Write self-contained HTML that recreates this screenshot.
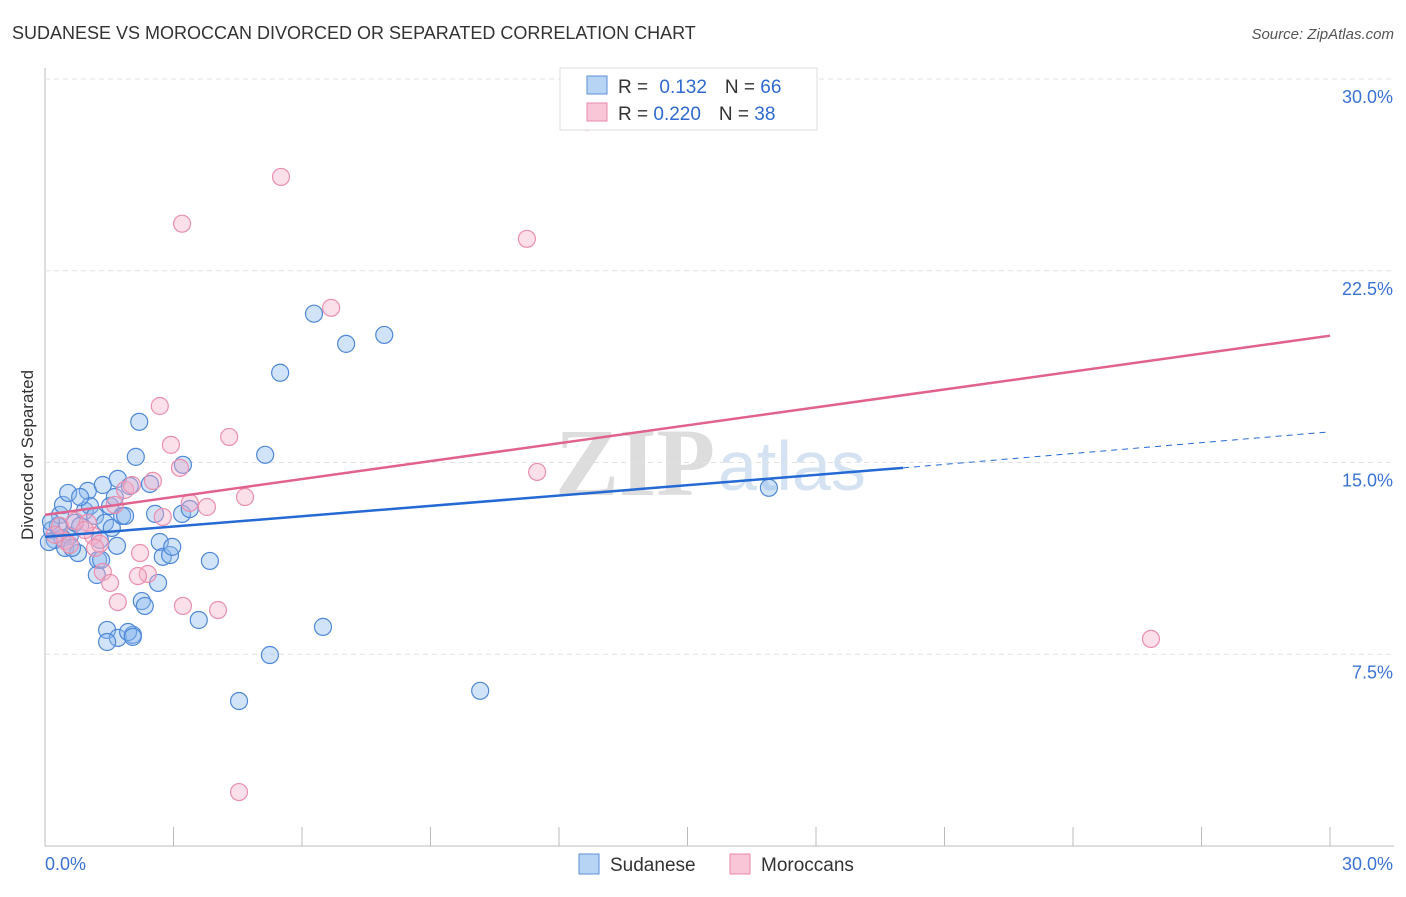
<!DOCTYPE html>
<html><head><meta charset="utf-8"><style>
body{margin:0;background:#fff;font-family:"Liberation Sans",sans-serif}
</style></head><body>
<svg id="c" width="1406" height="892" xmlns="http://www.w3.org/2000/svg">
<text x="12" y="39" font-size="18" fill="#333">SUDANESE VS MOROCCAN DIVORCED OR SEPARATED CORRELATION CHART</text>
<text x="1394" y="39" font-size="15" fill="#555" font-style="italic" text-anchor="end">Source: ZipAtlas.com</text>
<text x="33" y="455" font-size="17" fill="#333" text-anchor="middle" transform="rotate(-90 33 455)">Divorced or Separated</text>
<text x="555" y="495" font-size="96" fill="#ddd" font-family="Liberation Serif" font-weight="bold">ZIP</text>
<text x="718" y="490" font-size="70" fill="#d4e2f2">atlas</text>
<g id="grid"></g><g id="pts"></g><g id="lines"></g>
<g>
<rect x="560" y="68" width="257" height="62" fill="#fff" stroke="#ddd"/>
<rect x="587" y="76" width="20" height="18" fill="#b8d4f5" stroke="#5b8fd6"/>
<rect x="587" y="103" width="20" height="18" fill="#f8c6d6" stroke="#e88aa8"/>
<text x="618" y="93" font-size="19" fill="#333">R = <tspan fill="#2f6ad0" dx="6">0.132</tspan><tspan dx="18" fill="#333">N = </tspan><tspan fill="#2f6ad0">66</tspan></text>
<text x="618" y="120" font-size="19" fill="#333">R = <tspan fill="#2f6ad0">0.220</tspan><tspan dx="18" fill="#333">N = </tspan><tspan fill="#2f6ad0">38</tspan></text>
</g>
<g>
<rect x="579" y="854" width="20" height="20" fill="#b8d4f5" stroke="#5b8fd6"/>
<text x="610" y="871" font-size="19" fill="#333">Sudanese</text>
<rect x="730" y="854" width="20" height="20" fill="#f8c6d6" stroke="#e88aa8"/>
<text x="761" y="871" font-size="19" fill="#333">Moroccans</text>
</g>
</svg>
<script>
const yTicks=[7.5,15,22.5,30];
const yTickLabels=["7.5%","15.0%","22.5%","30.0%"];
const xTickLabels=["0.0%","30.0%"];
const sudaneseX=[0.16,0.23,0.35,0.42,0.54,0.47,0.58,0.70,0.77,0.82,0.93,1.00,1.05,1.17,1.24,1.28,1.35,1.40,1.52,1.56,1.68,1.70,1.80,1.87,1.98,2.05,2.12,2.20,2.26,2.33,2.45,2.57,2.64,2.68,2.75,2.92,2.97,3.20,3.22,3.38,3.59,3.85,5.14,5.49,6.28,6.49,7.03,7.92,5.25,4.53,10.16,16.90,1.45,1.70,1.94,2.05,1.45,1.21,1.31,0.30,0.40,0.09,0.14,0.63,0.82,1.63];
const sudaneseY=[12.36,11.97,12.95,13.34,13.81,11.66,12.13,12.64,11.46,12.52,13.11,13.89,13.30,12.91,11.19,11.97,14.12,12.64,13.30,12.44,11.74,14.36,12.91,12.91,14.08,8.26,15.22,16.59,9.58,9.39,14.16,12.99,10.29,11.89,11.31,11.38,11.70,12.99,14.91,13.18,8.84,11.15,15.30,18.51,20.82,8.57,19.64,19.99,7.47,5.67,6.07,14.01,8.45,8.14,8.37,8.18,7.98,10.60,11.19,12.52,12.05,11.89,12.68,11.66,13.65,13.65];
const moroccanX=[12.65,5.51,3.20,11.25,6.68,2.68,4.30,2.94,3.15,11.49,2.52,1.87,2.03,4.67,3.38,3.78,2.75,1.63,1.12,1.28,2.22,1.35,1.52,2.40,2.17,1.70,3.22,4.04,25.82,4.53,0.35,0.47,0.70,1.00,0.23,0.58,0.93,1.17];
const moroccanY=[28.33,26.17,24.34,23.75,21.05,17.21,16.00,15.69,14.79,14.63,14.28,13.93,14.12,13.65,13.42,13.26,12.87,13.34,12.13,11.82,11.46,10.72,10.29,10.64,10.56,9.54,9.39,9.23,8.10,2.11,12.52,11.93,12.71,12.64,12.17,11.78,12.36,11.66];
const blueTrend=[[0,12.09],[20.03,14.79]];
const blueDash=[[20.03,14.79],[30,16.2]];
const pinkTrend=[[0,12.95],[30,19.96]];
const NS="http://www.w3.org/2000/svg";
const X=v=>45+v*(1285/30), Y=v=>846-v*(767/30);
function mk(t,a,p){const e=document.createElementNS(NS,t);for(const k in a)e.setAttribute(k,a[k]);p.appendChild(e);return e;}
const g=document.getElementById('grid');
let ax=mk('line',{x1:45,y1:68,x2:45,y2:846,stroke:'#bbb'},g);

let bx=mk('line',{x1:45,y1:846,x2:1394,y2:846,stroke:'#bbb'},g);

yTicks.forEach((t,i)=>{
 const l=mk('line',{x1:45,x2:1394,y1:Y(t),y2:Y(t),stroke:'#e2e2e2','stroke-dasharray':'5,4'},g);
 
 const tx=mk('text',{x:1393,y:Y(t)+24,'font-size':18,fill:'#3b73d4','text-anchor':'end'},g);tx.textContent=yTickLabels[i];
 
});
for(let i=0;i<=10;i++){const x=45+i*128.5;const l=mk('line',{x1:x,x2:x,y1:827,y2:846,stroke:'#bbb'},g);
 }
[[45,'start',0],[1393,'end',1]].forEach(([x,a,i])=>{const t=mk('text',{x:x,y:870,'font-size':18,fill:'#3b73d4','text-anchor':a},g);t.textContent=xTickLabels[i];
 });
const p=document.getElementById('pts');
sudaneseX.forEach((v,i)=>{const c=mk('circle',{cx:X(v),cy:Y(sudaneseY[i]),r:8.5,fill:'rgba(140,184,238,0.4)',stroke:'#4f88d8','stroke-width':1.2},p);
 });
moroccanX.forEach((v,i)=>{const c=mk('circle',{cx:X(v),cy:Y(moroccanY[i]),r:8.5,fill:'rgba(246,176,200,0.4)',stroke:'#eb8fae','stroke-width':1.2},p);
 });
const L=document.getElementById('lines');
let a=mk('line',{x1:X(blueTrend[0][0]),y1:Y(blueTrend[0][1]),x2:X(blueTrend[1][0]),y2:Y(blueTrend[1][1]),stroke:'#2469d4','stroke-width':2.5},L);

let b=mk('line',{x1:X(blueDash[0][0]),y1:Y(blueDash[0][1]),x2:X(blueDash[1][0]),y2:Y(blueDash[1][1]),stroke:'#2469d4','stroke-width':1,'stroke-dasharray':'6,5'},L);

let c=mk('line',{x1:X(pinkTrend[0][0]),y1:Y(pinkTrend[0][1]),x2:X(pinkTrend[1][0]),y2:Y(pinkTrend[1][1]),stroke:'#e2628e','stroke-width':2.5},L);

</script>
</body></html>
